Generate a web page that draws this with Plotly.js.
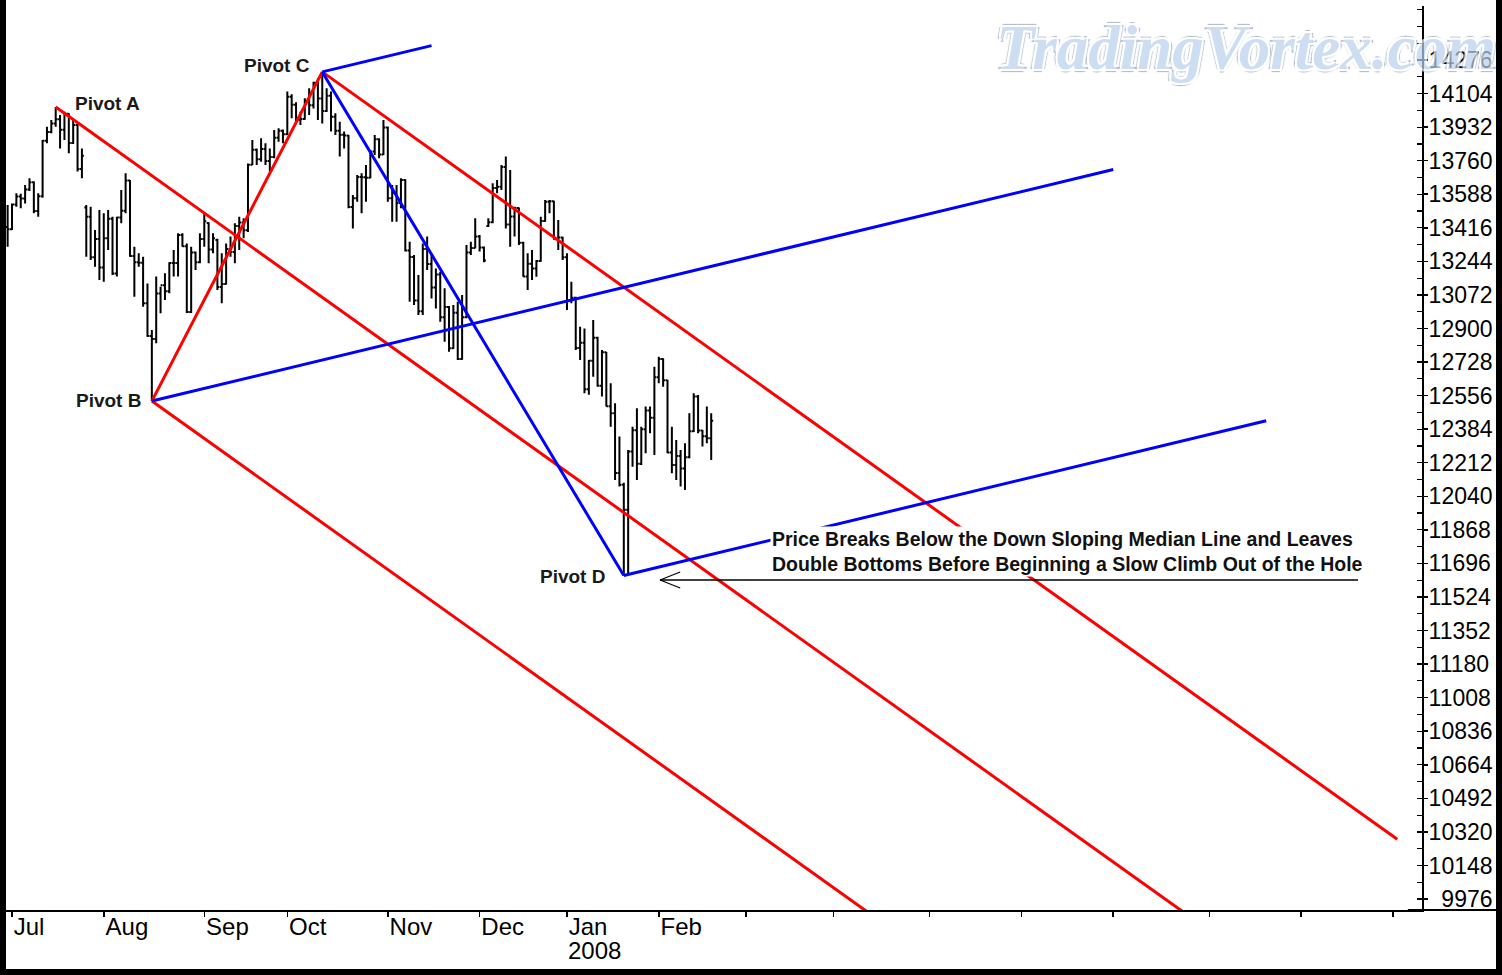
<!DOCTYPE html>
<html><head><meta charset="utf-8">
<script src="https://cdn.plot.ly/plotly-3.0.1.min.js"></script>
<style>html,body{margin:0;padding:0;background:#fff;}#chart{width:1502px;height:975px;}</style>
</head><body><div id="chart"></div>
<script>
// Trading-day index of the first bar (29 Jun 2007); 2 Jul 2007 = 0
const firstDay = -1;
const open = [
13420,13409,13535,13577,13566,13612,13650,13502,13578,13862,
13907,13951,13972,13918,14000,13851,13943,13717,13520,13473,
13265,13358,13212,13362,13463,13182,13469,13504,13658,13271,
13240,13237,13029,12861,12846,13079,13121,13091,13236,13236,
13379,13322,12984,13289,13239,13358,13440,13305,13354,13113,
13128,13308,13292,13425,13443,13403,13739,13816,13767,13820,
13759,13779,13878,13913,13896,14088,14047,13968,13974,14066,
14044,14160,14079,14015,14093,13985,13913,13893,13889,13522,
13567,13676,13675,13672,13807,13870,13792,13930,13568,13595,
13543,13661,13300,13266,13043,12988,13307,13231,13110,13177,
12958,13010,12799,12981,12743,12958,13289,13312,13372,13315,
13425,13445,13620,13626,13727,13433,13474,13518,13340,13167,
13232,13207,13246,13451,13549,13552,13360,13366,13265,13044,
13057,12800,12827,12589,12735,12853,12606,12778,12501,12466,
12159,12099,11971,12270,12379,12207,12384,12480,12443,12650,
12743,12635,12265,12200,12247,12182,12240,12373,12552,12377,
12348,12337];
const high = [
13533,13541,13593,13590,13635,13670,13655,13593,13866,13934,
13969,14035,13994,14011,14003,13969,13951,13823,13533,13524,
13405,13507,13490,13507,13473,13473,13610,13695,13661,13319,
13285,13268,13131,12892,13166,13114,13183,13240,13302,13388,
13388,13336,13319,13295,13388,13490,13445,13388,13360,13285,
13336,13371,13439,13473,13465,13745,13866,13823,13875,13849,
13823,13917,13926,13920,14114,14100,14060,14011,14080,14131,
14165,14182,14215,14131,14114,14003,13960,13909,13892,13584,
13687,13695,13738,13810,13892,13875,13968,13935,13635,13635,
13670,13665,13345,13277,13174,13336,13371,13277,13208,13191,
13106,13015,13020,13037,13072,13328,13345,13465,13379,13320,
13465,13644,13661,13738,13781,13712,13524,13520,13345,13285,
13302,13251,13473,13559,13559,13555,13456,13370,13285,13140,
13063,12909,12900,12739,12943,12858,12790,12780,12619,12517,
12346,12110,12277,12397,12491,12397,12500,12500,12704,12755,
12747,12636,12397,12329,12277,12312,12465,12568,12559,12380,
12500,12465];
const low = [
13319,13405,13524,13516,13541,13605,13490,13473,13570,13849,
13900,13934,13823,13866,13798,13845,13704,13670,13268,13251,
13217,13149,13140,13302,13174,13166,13439,13490,13268,13063,
13217,13012,12858,12528,12824,12978,13046,13080,13166,13166,
13319,12980,12980,13200,13234,13319,13234,13285,13097,13029,
13125,13268,13234,13302,13362,13395,13738,13738,13755,13738,
13704,13772,13857,13849,13892,13977,13960,13943,13970,13994,
14028,13968,13951,14010,13909,13892,13781,13823,13516,13413,
13550,13490,13550,13670,13789,13772,13789,13550,13447,13447,
13516,13294,13037,13020,12969,12969,13200,13054,13003,12935,
12832,12781,12795,12738,12740,12952,13277,13311,13294,13240,
13420,13439,13593,13610,13413,13319,13371,13328,13165,13097,
13149,13165,13242,13447,13490,13355,13302,13251,12995,13029,
12790,12739,12568,12560,12653,12602,12551,12500,12397,12124,
12090,11634,11645,12192,12124,12200,12260,12363,12252,12619,
12602,12260,12158,12124,12090,12072,12235,12370,12363,12295,
12312,12226];
const close = [
13408,13535,13577,13566,13612,13650,13502,13578,13862,13907,
13951,13972,13918,14000,13851,13943,13717,13785,13473,13265,
13358,13212,13362,13463,13182,13469,13504,13658,13271,13240,
13237,13029,12861,12846,13079,13121,13091,13236,13236,13379,
13322,12984,13289,13239,13358,13449,13305,13363,13113,13128,
13308,13292,13425,13443,13403,13739,13816,13767,13820,13759,
13779,13878,13913,13896,14088,14047,13968,13974,14066,14044,
14160,14079,14015,14093,13985,13913,13893,13889,13522,13567,
13676,13675,13672,13807,13870,13792,13930,13568,13595,13543,
13661,13300,13266,13043,12988,13307,13231,13110,13177,12958,
13010,12799,12981,12743,12958,13289,13312,13372,13315,13249,
13445,13620,13626,13727,13433,13474,13518,13340,13167,13232,
13207,13246,13451,13549,13552,13360,13366,13265,13044,13057,
12800,12827,12589,12735,12853,12606,12778,12501,12466,12159,
12099,11971,12270,12379,12207,12384,12480,12443,12650,12743,
12635,12265,12200,12247,12182,12240,12373,12552,12377,12348,
12337,12427];

// month ticks (trading-day index of each month's first session)
const monthTickIdx = [0,21,44,63,86,107,127,148,168,188,210,231,252,274,295,316];
const monthLabels = ['Jul','Aug','Sep','Oct','Nov','Dec','Jan','Feb','','','','','','','',''];
const yearLabel = '2008';
const yearTickIdx = 127;
const yTicks = [14276,14104,13932,13760,13588,13416,13244,13072,12900,12728,12556,12384,12212,12040,
                11868,11696,11524,11352,11180,11008,10836,10664,10492,10320,10148,9976];

// pitchfork pivots
const pivotNames = ['Pivot A','Pivot B','Pivot C','Pivot D'];
const pivotIdx = [10,32,71,140];
const pivotPrice = [14035,12528,14215,11634];
const redEnd = 317;               // red fork lines end (A,B,C)
const blueEnds = [252,96,287];    // blue fork lines end (from B, C, D)

const noteLines = ['Price Breaks Below the Down Sloping Median Line and Leaves',
                   'Double Bottoms Before Beginning a Slow Climb Out of the Hole'];
const arrowTip = 148.3, arrowTail = 308, arrowLevel = 11611, noteX = 173.5;

const xs = open.map((_, i) => i + firstDay);
const P = pivotNames.map((n, i) => ({x: pivotIdx[i], y: pivotPrice[i]}));
const [A, B, C, D] = P;

const traces = [{
  type: 'ohlc', x: xs, open: open, high: high, low: low, close: close,
  increasing: {line: {color: '#000', width: 2}}, decreasing: {line: {color: '#000', width: 2}},
  tickwidth: 0.45, hoverinfo: 'skip', showlegend: false
}];
function seg(p, q, color) {
  traces.push({type: 'scatter', mode: 'lines', x: [p.x, q.x], y: [p.y, q.y],
    line: {color: color, width: 3}, hoverinfo: 'skip', showlegend: false, cliponaxis: true});
}
// red Andrews pitchfork from A
const M1 = {x: (B.x + C.x) / 2, y: (B.y + C.y) / 2};
const sR = (M1.y - A.y) / (M1.x - A.x);
seg(B, C, '#ff0000');
[A, B, C].forEach(p => seg(p, {x: redEnd, y: p.y + sR * (redEnd - p.x)}, '#ff0000'));
// blue pitchfork from B
const M2 = {x: (C.x + D.x) / 2, y: (C.y + D.y) / 2};
const sB = (M2.y - B.y) / (M2.x - B.x);
seg(C, D, '#0000ff');
[B, C, D].forEach((p, i) => seg(p, {x: blueEnds[i], y: p.y + sB * (blueEnds[i] - p.x)}, '#0000ff'));

const W = 1502, H = 975, ml = 6, mr = 80, mt = 6, mb = 65;
const pw = W - ml - mr, ph = H - mt - mb;
const pxPerDay = 4.37;
const xRange = [-(12 - ml) / pxPerDay, -(12 - ml) / pxPerDay + pw / pxPerDay];
const vPerPx = 5.125;
const yRange = [14276 - (910 - 60) * vPerPx, 14276 + (60 - mt) * vPerPx];

const pivotOffsets = [[17, 4, 'left'], [-9, 1, 'right'], [-10, 6, 'right'], [-17, -1, 'right']];
const annotations = P.map((p, i) => ({
  x: p.x, y: p.y, xref: 'x', yref: 'y', text: '<b>' + pivotNames[i] + '</b>', showarrow: false,
  xanchor: pivotOffsets[i][2], yanchor: 'middle', xshift: pivotOffsets[i][0], yshift: pivotOffsets[i][1],
  font: {family: 'Liberation Sans, Arial, sans-serif', size: 19, color: '#1a1a1a'}
}));
annotations.push({
  x: noteX, y: arrowLevel, xref: 'x', yref: 'y', xanchor: 'left', yanchor: 'bottom', yshift: 3,
  text: '<b>' + noteLines.join('<br>') + '</b>', align: 'left', showarrow: false,
  bgcolor: '#ffffff', borderpad: 1,
  font: {family: 'Liberation Sans, Arial, sans-serif', size: 19.5, color: '#111'}
});
annotations.push({
  x: yearTickIdx, y: -(950 - 910) / ph, xref: 'x', yref: 'paper', xanchor: 'left', yanchor: 'middle',
  text: yearLabel, showarrow: false, xshift: -1,
  font: {family: 'Liberation Sans, Arial, sans-serif', size: 24, color: '#000'}
});
annotations.push({
  x: (1498 - ml) / pw, y: (910 - 48) / ph, xref: 'paper', yref: 'paper', xanchor: 'right', yanchor: 'middle',
  text: '<b><i>TradingVortex.com</i></b>', showarrow: false, opacity: 0.7,
  font: {family: 'Liberation Serif, DejaVu Serif, serif', size: 63, color: '#b9d1ef',
    shadow: '-2px -2px 0 #ffffff, 2px -2px 0 #ffffff, -2px 2px 0 #ffffff, 2px 2px 0 #ffffff, -3px 0 1px #8e9cb0, 3px 0 1px #8e9cb0, 0 -3px 1px #8e9cb0, 0 3px 1px #8e9cb0'}
});

const shapes = [
  {type: 'line', xref: 'x', yref: 'y', x0: arrowTip, x1: arrowTail, y0: arrowLevel, y1: arrowLevel, line: {color: '#000', width: 1.5}},
  {type: 'line', xref: 'x', yref: 'y', x0: arrowTip, x1: arrowTip + 4.6, y0: arrowLevel, y1: arrowLevel + 41, line: {color: '#000', width: 1.2}},
  {type: 'line', xref: 'x', yref: 'y', x0: arrowTip, x1: arrowTip + 4.6, y0: arrowLevel, y1: arrowLevel - 41, line: {color: '#000', width: 1.2}},
  {type: 'line', xref: 'paper', yref: 'paper', x0: 0.99, x1: (W - ml) / pw, y0: 0, y1: 0, line: {color: '#000', width: 2}},
  {type: 'rect', xref: 'paper', yref: 'paper', x0: -ml / pw, x1: (W - ml) / pw, y0: -mb / ph, y1: (H - mt) / ph,
   line: {color: '#000', width: 12}, fillcolor: 'rgba(0,0,0,0)'}
];

const xTickFont = {family: 'Liberation Sans, Arial, sans-serif', size: 24, color: '#000'};
const yTickFont = {family: 'Liberation Sans, Arial, sans-serif', size: 23, color: '#000'};
const layout = {
  width: W, height: H, margin: {l: ml, r: mr, t: mt, b: mb, pad: 0},
  paper_bgcolor: '#fff', plot_bgcolor: '#fff', showlegend: false, dragmode: false,
  xaxis: {
    range: xRange, tickmode: 'array', tickvals: monthTickIdx, ticktext: monthLabels,
    ticks: 'outside', ticklen: 5, tickwidth: 1.5, tickcolor: '#000',
    ticklabelposition: 'outside right', ticklabelstandoff: -6, tickfont: xTickFont,
    showgrid: false, zeroline: false, showline: true, linecolor: '#000', linewidth: 2,
    rangeslider: {visible: false}, fixedrange: true
  },
  yaxis: {
    side: 'right', range: yRange, tickmode: 'array', tickvals: yTicks,
    ticktext: yTicks.map(v => (v < 10000 ? '\u00a0\u00a0' : '') + v),
    ticks: 'outside', ticklen: 4, tickwidth: 1.5, tickcolor: '#000', tickfont: yTickFont,
    ticklabelstandoff: -4,
    minor: {tickmode: 'linear', tick0: 9976, dtick: 86, ticks: 'inside', ticklen: 5, tickwidth: 1.2, tickcolor: '#000', showgrid: false},
    showgrid: false, zeroline: false, showline: true, linecolor: '#000', linewidth: 2, fixedrange: true
  },
  annotations: annotations, shapes: shapes
};
Plotly.newPlot('chart', traces, layout, {staticPlot: true, displayModeBar: false});
</script></body></html>
